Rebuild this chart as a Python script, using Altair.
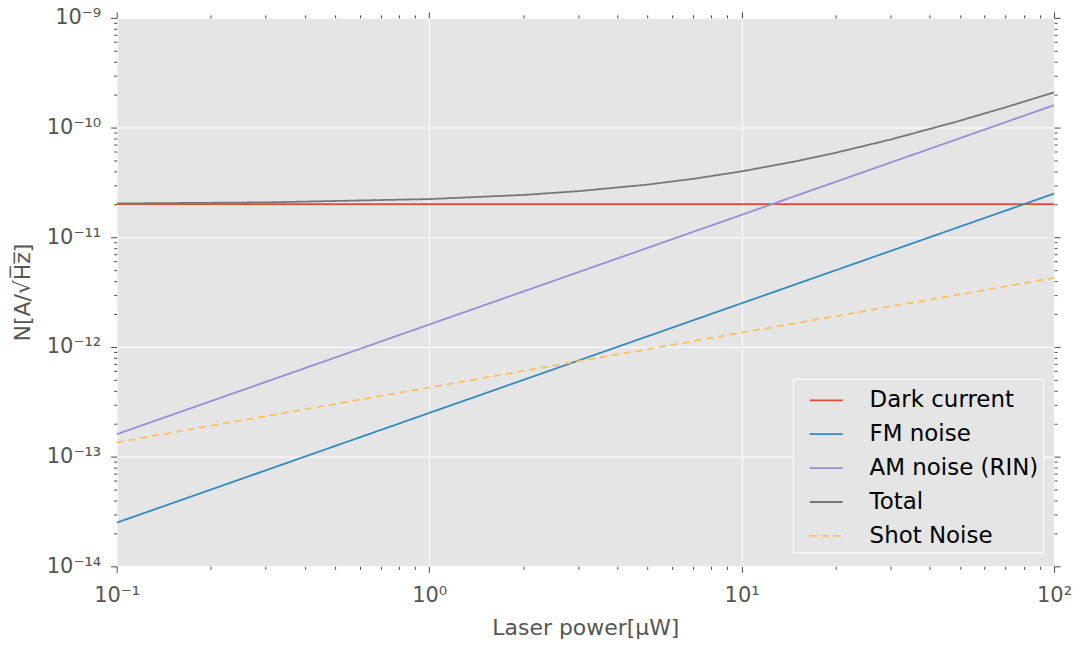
import altair as alt
import pandas as pd

# ---- data ----
series_order = ["Dark current", "FM noise", "AM noise (RIN)", "Total", "Shot Noise"]
colors = ["#E24A33", "#348ABD", "#988ED5", "#777777", "#FBC15E"]

dark_x = [0.1, 100]
dark_y = [2.0e-11, 2.0e-11]

fm_x = [0.1, 1, 10, 100]
fm_y = [2.5e-14, 2.5e-13, 2.5e-12, 2.5e-11]

am_x = [0.1, 1, 10, 100]
am_y = [1.6e-13, 1.6e-12, 1.6e-11, 1.6e-10]

total_x = [0.1, 0.3, 1, 2, 3, 5, 7, 10, 15, 20, 30, 50, 70, 100]
total_y = [2.032e-11, 2.079e-11, 2.228e-11, 2.430e-11, 2.629e-11, 3.02e-11, 3.408e-11,
           3.985e-11, 4.94e-11, 5.89e-11, 7.78e-11, 1.155e-10, 1.531e-10, 2.093e-10]

shot_x = [0.1, 1, 10, 100]
shot_y = [1.35e-13, 4.27e-13, 1.35e-12, 4.27e-12]

x_major = [0.1, 1, 10, 100]
x_labels = ["10\u207b\u00b9", "10\u2070", "10\u00b9", "10\u00b2"]
y_major = [1e-14, 1e-13, 1e-12, 1e-11, 1e-10, 1e-9]
y_labels = ["10\u207b\u00b9\u2074", "10\u207b\u00b9\u00b3", "10\u207b\u00b9\u00b2",
            "10\u207b\u00b9\u00b9", "10\u207b\u00b9\u2070", "10\u207b\u2079"]

rows = []
for name, xs, ys in [("Dark current", dark_x, dark_y), ("FM noise", fm_x, fm_y),
                     ("AM noise (RIN)", am_x, am_y), ("Total", total_x, total_y),
                     ("Shot Noise", shot_x, shot_y)]:
    for xv, yv in zip(xs, ys):
        rows.append({"series": name, "x": xv, "y": yv})
df = pd.DataFrame(rows)

x_ticks = [m * 10.0 ** e for e in range(-1, 2) for m in range(1, 10)] + [100]
y_ticks = [m * 10.0 ** e for e in range(-14, -9) for m in range(1, 10)] + [1e-9]

is_major = "abs(log(datum.value)/LN10 - round(log(datum.value)/LN10)) < 0.000001"

def arr(lst):
    return "[" + ",".join("'" + s + "'" for s in lst) + "]"

x_label_expr = f"({is_major}) ? {arr(x_labels)}[round(log(datum.value)/LN10)+1] : ''"
y_label_expr = f"({is_major}) ? {arr(y_labels)}[round(log(datum.value)/LN10)+14] : ''"

tick_size = {"condition": {"test": is_major, "value": 6}, "value": 3}
grid_op = {"condition": {"test": is_major, "value": 1}, "value": 0}

FONT = "DejaVu Sans"

x_scale = alt.Scale(type="log", domain=[0.1, 100], nice=False)
y_scale = alt.Scale(type="log", domain=[1e-14, 1e-9], nice=False)

common_axis = dict(domain=False, tickColor="#444444", tickWidth=1, grid=True,
                   gridColor="white", gridWidth=1, gridOpacity=grid_op, tickSize=tick_size,
                   labelFont=FONT, labelFontSize=21, labelColor="#555555",
                   labelOverlap=False, labelFlush=False, labelBound=False,
                   titleFont=FONT, titleFontSize=22, titleColor="#555555",
                   titleFontWeight="normal")

lines = alt.Chart(df).mark_line(strokeWidth=1.8, clip=True).encode(
    x=alt.X("x:Q", scale=x_scale,
            axis=alt.Axis(values=x_ticks, labelExpr=x_label_expr, title="Laser power[\u03bcW]",
                          labelPadding=12, titlePadding=12, **common_axis)),
    y=alt.Y("y:Q", scale=y_scale,
            axis=alt.Axis(values=y_ticks, labelExpr=y_label_expr, title="N[A/\u221aH\u0305z\u0305]",
                          labelPadding=10, titlePadding=12, **common_axis)),
    color=alt.Color("series:N", sort=series_order,
                    scale=alt.Scale(domain=series_order, range=colors),
                    legend=alt.Legend(title=None, orient="none", legendX=678, legendY=362,
                                      symbolType="stroke", symbolSize=1089, symbolStrokeWidth=1.8,
                                      symbolOffset=12,
                                      labelFont=FONT, labelFontSize=23, labelColor="black",
                                      labelOffset=26, rowPadding=4, padding=4,
                                      fillColor="#E5E5E5", strokeColor="white",
                                      labelLimit=300)),
    strokeDash=alt.StrokeDash("series:N", sort=series_order,
                              scale=alt.Scale(domain=series_order,
                                              range=[[1, 0], [1, 0], [1, 0], [1, 0], [7, 5]]),
                              legend=None),
    detail="series:N",
)

frame_axis = dict(domain=False, tickColor="#444444", tickWidth=1, grid=False,
                  tickSize=tick_size, labels=False, title=None)

frame = alt.Chart(df).mark_point(opacity=0).encode(
    x=alt.X("x:Q", scale=x_scale, axis=alt.Axis(orient="top", values=x_ticks, **frame_axis)),
    y=alt.Y("y:Q", scale=y_scale, axis=alt.Axis(orient="right", values=y_ticks, **frame_axis)),
)

chart = alt.layer(lines, frame).resolve_axis(
    x="independent", y="independent"
).properties(
    width=940, height=550,
    background="white",
    autosize=alt.AutoSizeParams(type="none"),
    padding={"left": 109, "top": 9, "right": 20, "bottom": 75},
).configure_view(fill="#E5E5E5", stroke=None)

chart.save("out.html", embed_options={"renderer": "svg", "actions": False})
